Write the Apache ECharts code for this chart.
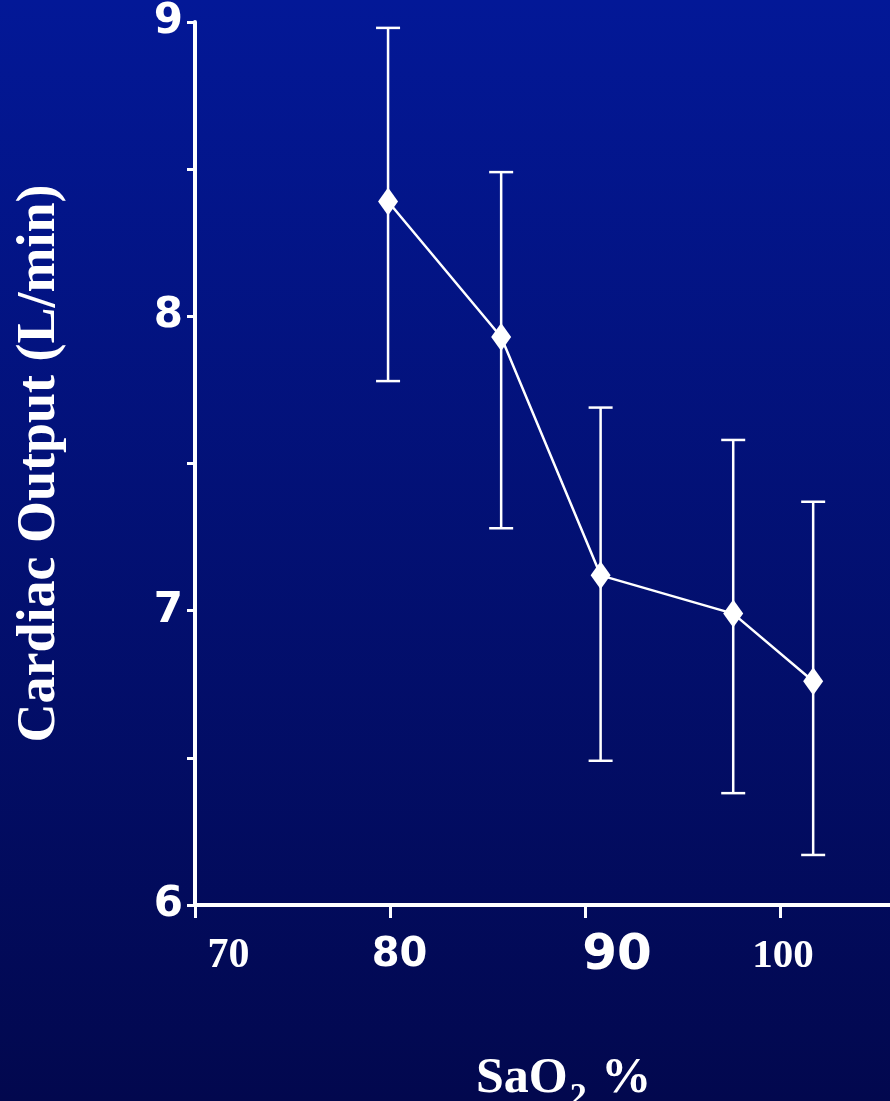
<!DOCTYPE html>
<html>
<head>
<meta charset="utf-8">
<script src="https://cdn.jsdelivr.net/npm/echarts@6/dist/echarts.min.js"></script>
<style>
html,body{margin:0;padding:0;width:890px;height:1101px;overflow:hidden;}
#chart{width:890px;height:1101px;}
</style>
</head>
<body>
<div id="chart"></div>
<script>
// Data
var saO2 = [79.9, 85.7, 90.8, 97.6, 101.7];          // SaO2 %
var cardiacOutput = [8.39, 7.93, 7.12, 6.99, 6.76];   // L/min (mean)
var errorUpper = [8.98, 8.49, 7.69, 7.58, 7.37];
var errorLower = [7.78, 7.28, 6.49, 6.38, 6.17];
var xTickLabels = ['70', '80', '90', '100'];
var yTickLabels = ['6', '7', '8', '9'];

var lineData = saO2.map(function (x, i) { return [x, cardiacOutput[i]]; });
var errData = saO2.map(function (x, i) { return [x, errorLower[i], errorUpper[i]]; });

var xLabelStyle = {
  '70': 'l70', '80': 'l80', '90': 'l90', '100': 'l100'
};

var chart = echarts.init(document.getElementById('chart'), null, {renderer: 'canvas'});
chart.setOption({
  animation: false,
  backgroundColor: {
    type: 'linear', x: 0, y: 0, x2: 0, y2: 1,
    colorStops: [{offset: 0, color: '#031897'}, {offset: 1, color: '#02084e'}]
  },
  title: {
    text: 'SaO{sub|2} %',
    left: 476,
    top: 1044,
    padding: 0,
    textStyle: {
      color: '#ffffff',
      fontFamily: 'Liberation Serif',
      fontWeight: 'bold',
      fontSize: 50,
      lineHeight: 56,
      rich: {
        sub: {
          color: '#ffffff', fontFamily: 'Liberation Serif', fontWeight: 'bold',
          fontSize: 34, lineHeight: 70, verticalAlign: 'bottom', padding: [0, 2, 0, 2]
        }
      }
    }
  },
  grid: {left: 195, right: 0, top: 22, bottom: 196, containLabel: false},
  xAxis: {
    type: 'value',
    min: 70,
    max: 105.64,
    interval: 10,
    splitLine: {show: false},
    axisLine: {show: true, lineStyle: {color: '#ffffff', width: 4}},
    axisTick: {show: true, length: 13, lineStyle: {color: '#ffffff', width: 3}},
    axisLabel: {
      margin: 26,
      color: '#ffffff',
      showMaxLabel: false,
      formatter: function (v) {
        var s = String(v);
        if (xTickLabels.indexOf(s) < 0) return '';
        return '{' + xLabelStyle[s] + '|' + s + '}';
      },
      rich: {
        l70: {fontFamily: 'Liberation Serif', fontWeight: 'bold', fontSize: 42, color: '#ffffff', lineHeight: 50, padding: [0, 0, 0, 67]},
        l80: {fontFamily: 'DejaVu Sans', fontWeight: 'bold', fontSize: 40, color: '#ffffff', lineHeight: 50, padding: [0, 0, 0, 19]},
        l90: {fontFamily: 'DejaVu Sans', fontWeight: 'bold', fontSize: 50, color: '#ffffff', lineHeight: 50, padding: [0, 0, 0, 64]},
        l100: {fontFamily: 'Liberation Serif', fontWeight: 'bold', fontSize: 41, color: '#ffffff', lineHeight: 50, padding: [0, 0, 0, 6]}
      }
    }
  },
  yAxis: {
    type: 'value',
    min: 6,
    max: 9,
    interval: 0.5,
    name: 'Cardiac Output (L/min)',
    nameLocation: 'middle',
    nameGap: 128,
    nameRotate: 90,
    nameTextStyle: {
      color: '#ffffff', fontFamily: 'Liberation Serif', fontWeight: 'bold', fontSize: 54
    },
    splitLine: {show: false},
    axisLine: {show: true, lineStyle: {color: '#ffffff', width: 4}},
    axisTick: {show: true, length: 8, lineStyle: {color: '#ffffff', width: 3}},
    axisLabel: {
      margin: 12,
      color: '#ffffff',
      fontFamily: 'DejaVu Sans',
      fontWeight: 'bold',
      fontSize: 42,
      formatter: function (v) {
        var s = String(v);
        return yTickLabels.indexOf(s) >= 0 ? s : '';
      }
    }
  },
  series: [
    {
      type: 'custom',
      name: 'SD',
      data: errData,
      z: 2,
      renderItem: function (params, api) {
        var x = api.value(0);
        var lo = api.coord([x, api.value(1)]);
        var hi = api.coord([x, api.value(2)]);
        var hw = 12;
        var style = {stroke: '#ffffff', lineWidth: 2.5, fill: null};
        return {
          type: 'group',
          children: [
            {type: 'line', shape: {x1: hi[0], y1: hi[1], x2: lo[0], y2: lo[1]}, style: style},
            {type: 'line', shape: {x1: hi[0] - hw, y1: hi[1], x2: hi[0] + hw, y2: hi[1]}, style: style},
            {type: 'line', shape: {x1: lo[0] - hw, y1: lo[1], x2: lo[0] + hw, y2: lo[1]}, style: style}
          ]
        };
      }
    },
    {
      type: 'line',
      name: 'Cardiac Output',
      data: lineData,
      z: 3,
      symbol: 'diamond',
      symbolSize: [20, 28],
      showAllSymbol: true,
      lineStyle: {color: '#ffffff', width: 2.5},
      itemStyle: {color: '#ffffff', borderWidth: 0}
    }
  ]
});
</script>
</body>
</html>
